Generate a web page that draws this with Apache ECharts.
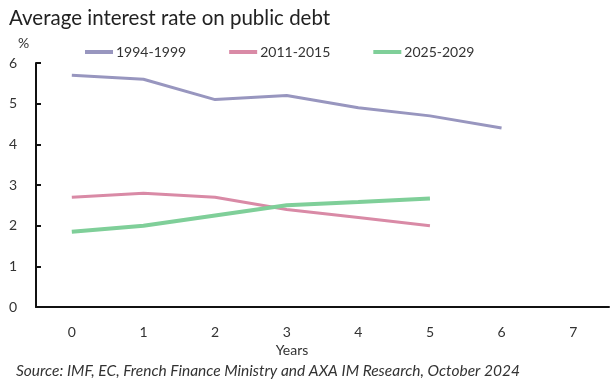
<!DOCTYPE html>
<html><head><meta charset="utf-8">
<script src="https://cdn.jsdelivr.net/npm/echarts@6/dist/echarts.min.js"></script>
<style>html,body{margin:0;padding:0;background:#fff}#c{width:615px;height:379px}</style>
</head><body><div id="c"></div>
<script>
var categories = ['0','1','2','3','4','5','6','7'];
var s1994 = [5.7, 5.6, 5.1, 5.2, 4.9, 4.7, 4.4];
var s2011 = [2.7, 2.8, 2.7, 2.4, 2.2, 2.0];
var s2025 = [1.85, 2.0, 2.25, 2.5, 2.58, 2.67];
var names = ['1994-1999', '2011-2015', '2025-2029'];
var yTicks = [0, 1, 2, 3, 4, 5, 6];

var F = 'Lato';
var chart = echarts.init(document.getElementById('c'), null, {renderer: 'canvas'});
chart.setOption({
  animation: false,
  textStyle: {fontFamily: F},
  title: [
    {text: 'Average interest rate on public debt', left: 4, top: 3,
     textStyle: {fontFamily: F, fontSize: 20.5, fontWeight: 'normal', color: '#222'}},
    {text: '%', left: 13, top: 31, textStyle: {fontFamily: F, fontSize: 14, fontWeight: 'normal', color: '#333'}},
    {text: 'Years', left: 287, top: 338, textAlign: 'center', textStyle: {fontFamily: F, fontSize: 14, fontWeight: 'normal', color: '#333'}},
    {text: 'Source: IMF, EC, French Finance Ministry and AXA IM Research, October 2024', left: 11, top: 358,
     textStyle: {fontFamily: F, fontSize: 15.5, fontStyle: 'italic', fontWeight: 'normal', color: '#333'}}
  ],
  legend: {
    top: 40, left: 80, itemGap: 43, itemWidth: 28, itemHeight: 4,
    icon: 'rect',
    textStyle: {fontFamily: F, fontSize: 14, color: '#333', padding: [0,0,0,-2]},
    data: names
  },
  grid: {left: 36, right: 6, top: 63, bottom: 72, containLabel: false},
  xAxis: {
    type: 'category', data: categories, boundaryGap: true,
    axisLine: {lineStyle: {color: '#111', width: 2}},
    axisTick: {inside: true, length: 5, lineStyle: {color: '#111', width: 2}},
    axisLabel: {color: '#333', fontSize: 14, margin: 18, fontFamily: F}
  },
  yAxis: {
    type: 'value', min: 0, max: 6, interval: 1,
    axisLine: {show: true, lineStyle: {color: '#111', width: 2}},
    axisTick: {show: true, inside: true, length: 5, lineStyle: {color: '#111', width: 2}},
    splitLine: {show: false},
    axisLabel: {color: '#333', fontSize: 14, margin: 19, fontFamily: F,
      formatter: function(v){ return yTicks.indexOf(v) >= 0 ? String(v) : ''; }}
  },
  series: [
    {name: names[0], type: 'line', data: s1994, symbol: 'none', lineStyle: {color: '#9896bf', width: 3}, itemStyle: {color: '#9896bf'}},
    {name: names[1], type: 'line', data: s2011, symbol: 'none', lineStyle: {color: '#d98aa6', width: 3}, itemStyle: {color: '#d98aa6'}},
    {name: names[2], type: 'line', data: s2025, symbol: 'none', lineStyle: {color: '#7fcf99', width: 4}, itemStyle: {color: '#7fcf99'}}
  ]
});
</script></body></html>
